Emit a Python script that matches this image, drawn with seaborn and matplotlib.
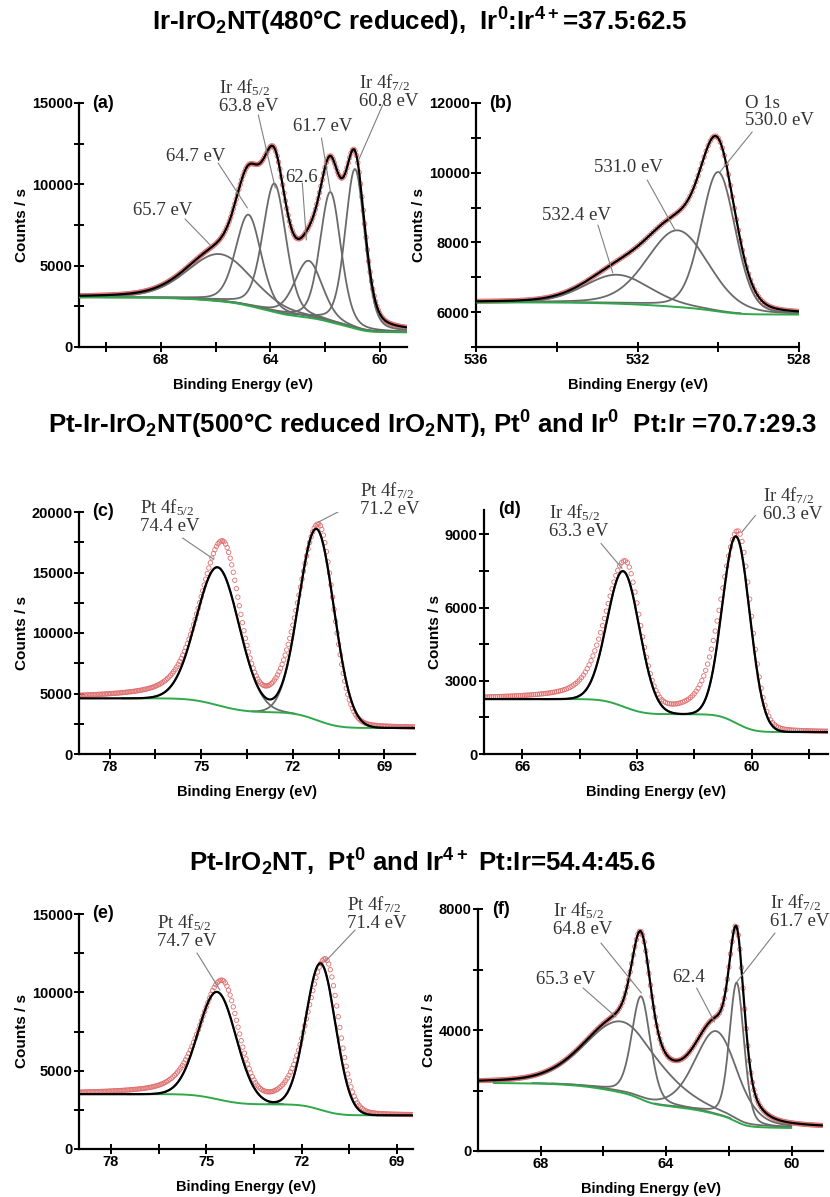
import numpy as np
import pandas as pd
import matplotlib
matplotlib.use("Agg")
import matplotlib.pyplot as plt
import seaborn as sns
from matplotlib import font_manager

#%% Peak-fit values (binding energy eV, counts/s)
# (a) Ir-IrO2NT, Ir 4f
a_centers = [65.85, 64.8, 63.85, 62.6, 61.8, 60.9]
a_heights = [2900, 5600, 7900, 3500, 8000, 9800]
a_fwhm = [2.8, 1.1, 1.0, 1.2, 0.9, 0.85]
a_bg = [3050, 900]

# (b) Ir-IrO2NT, O 1s
b_centers = [532.5, 531.0, 530.0]
b_heights = [830, 2200, 4000]
b_fwhm = [1.9, 1.8, 1.0]
b_bg = [6280, 5930]

# (c) Pt-Ir-IrO2NT, Pt 4f  (fit + measured shape)
c_centers = [74.45, 71.22]
c_heights = [11400, 15800]
c_fwhm = [1.65, 1.35]
c_bg = [4600, 2150]
c_meas_centers = [74.3, 71.15]
c_meas_heights = [13300, 16200]
c_meas_fwhm = [1.3, 1.15]

# (d) Pt-Ir-IrO2NT, Ir 4f
d_centers = [63.35, 60.4]
d_heights = [5550, 7650]
d_fwhm = [1.0, 0.85]
d_bg = [2250, 900]
d_meas_centers = [63.3, 60.35]
d_meas_heights = [5900, 7900]
d_meas_fwhm = [0.9, 0.8]

# (e) Pt-IrO2NT, Pt 4f
e_centers = [74.65, 71.4]
e_heights = [6850, 9350]
e_fwhm = [1.4, 1.1]
e_bg = [3500, 2150]
e_meas_centers = [74.5, 71.25]
e_meas_heights = [7500, 9700]
e_meas_fwhm = [1.2, 1.0]

# (f) Pt-IrO2NT, Ir 4f
f_centers = [65.4, 64.8, 62.4, 61.75]
f_heights = [2350, 3400, 2750, 4600]
f_fwhm = [2.8, 0.7, 1.6, 0.55]
f_bg = [2250, 750]

#%% Texts
titles = [
    "Ir-IrO$_2$NT(480°C reduced),  Ir$^0$:Ir$^{4+}$=37.5:62.5",
    "Pt-Ir-IrO$_2$NT(500°C reduced IrO$_2$NT), Pt$^0$ and Ir$^0$  Pt:Ir =70.7:29.3",
    "Pt-IrO$_2$NT,  Pt$^0$ and Ir$^{4+}$ Pt:Ir=54.4:45.6",
]

# label text, text position, leader line start, leader line end (data coords)
a_labels = [
    ("Ir 4f$_{5/2}$\n63.8 eV", (65.87, 15430), (64.44, 14263), (63.82, 9775)),
    ("61.7 eV", (63.16, 13526), (62.13, 12849), (61.80, 9529)),
    ("Ir 4f$_{7/2}$\n60.8 eV", (60.77, 15739), (59.89, 14878), (60.77, 11497)),
    ("64.7 eV", (67.82, 11681), (65.91, 11312), (64.84, 8546)),
    ("62.6", (63.45, 10390), (62.83, 10083), (62.68, 6578)),
    ("65.7 eV", (69.03, 8361), (67.12, 7869), (66.20, 6271)),
]
b_labels = [
    ("O 1s\n530.0 eV", (529.34, 11728), (529.16, 11168), (529.96, 10019)),
    ("531.0 eV", (533.08, 10163), (531.76, 9790), (531.07, 8354)),
    ("532.4 eV", (534.37, 8785), (532.98, 8498), (532.61, 7120)),
]
c_labels = [
    ("Pt 4f$_{5/2}$\n74.4 eV", (76.99, 19669), (75.61, 17851), (74.60, 16115)),
    ("Pt 4f$_{7/2}$\n71.2 eV", (69.79, 21074), (69.95, 20743), (71.16, 19172)),
]
d_labels = [
    ("Ir 4f$_{5/2}$\n63.3 eV", (65.30, 9552), (63.94, 8632), (63.39, 7609)),
    ("Ir 4f$_{7/2}$\n60.3 eV", (59.71, 10248), (59.90, 9777), (60.26, 9082)),
]
e_labels = [
    ("Pt 4f$_{5/2}$\n74.7 eV", (76.55, 13883), (75.29, 12511), (74.57, 10149)),
    ("Pt 4f$_{7/2}$\n71.4 eV", (70.57, 15064), (70.32, 13979), (71.27, 11936)),
]
f_labels = [
    ("Ir 4f$_{5/2}$\n64.8 eV", (67.62, 7670), (66.08, 6876), (64.79, 5223)),
    ("Ir 4f$_{7/2}$\n61.7 eV", (60.69, 7934), (60.53, 7207), (61.75, 5587)),
    ("65.3 eV", (68.16, 5653), (66.65, 5389), (65.60, 4430)),
    ("62.4", (63.80, 5752), (63.03, 5389), (62.46, 4265)),
]


def pseudo_voigt(x, c, h, w, eta, asym=0.0):
    # asym > 0 widens the high binding energy side (inelastic tail)
    hi_side = x > c
    w = np.where(hi_side, w * (1 + asym), w)
    eta = np.where(hi_side, eta, eta * max(0.0, 1 - 2 * asym))
    s = w / 2.3548
    g = np.exp(-(x - c) ** 2 / (2 * s * s))
    l = 1 / (1 + ((x - c) / (w / 2)) ** 2)
    return h * ((1 - eta) * g + eta * l)


def shirley(x, comps, hi, lo):
    s = comps.sum(axis=0)
    cum = np.concatenate([[0], np.cumsum((s[1:] + s[:-1]) / 2 * np.diff(x))])
    return lo + (hi - lo) * cum / cum[-1]


panels = [
    dict(tag="(a)", c=a_centers, h=a_heights, w=a_fwhm, bg=a_bg, eta=0.3, meas=None,
         labels=a_labels, box=(79, 103, 407, 347), xlim=(71, 59), ylim=(0, 15000),
         xmaj=[68, 64, 60], xmin=[70, 66, 62], ymaj=[0, 5000, 10000, 15000],
         ymin=[2500, 7500, 12500], fit=(59, 71)),
    dict(tag="(b)", c=b_centers, h=b_heights, w=b_fwhm, bg=b_bg, eta=0.2, meas=None,
         labels=b_labels, box=(476, 103, 799, 347), xlim=(536, 528), ylim=(5000, 12000),
         xmaj=[536, 532, 528], xmin=[534, 530], ymaj=[6000, 8000, 10000, 12000],
         ymin=[5000, 7000, 9000, 11000], fit=(528, 536)),
    dict(tag="(c)", c=c_centers, h=c_heights, w=c_fwhm, bg=c_bg, eta=0.0,
         meas=(c_meas_centers, c_meas_heights, c_meas_fwhm, 0.42, 0.35),
         labels=c_labels, box=(79, 512, 415, 754), xlim=(79, 68), ylim=(0, 20000),
         xmaj=[78, 75, 72, 69], xmin=[76.5, 73.5, 70.5],
         ymaj=[0, 5000, 10000, 15000, 20000], ymin=[2500, 7500, 12500, 17500],
         fit=(69.0, 77.6)),
    dict(tag="(d)", c=d_centers, h=d_heights, w=d_fwhm, bg=d_bg, eta=0.0,
         meas=(d_meas_centers, d_meas_heights, d_meas_fwhm, 0.42, 0.35),
         labels=d_labels, box=(484, 510, 828, 754), xlim=(67, 58), ylim=(0, 10000),
         xmaj=[66, 63, 60], xmin=[64.5, 61.5, 58.5], ymaj=[0, 3000, 6000, 9000],
         ymin=[1500, 4500, 7500], fit=(58.6, 65.5)),
    dict(tag="(e)", c=e_centers, h=e_heights, w=e_fwhm, bg=e_bg, eta=0.0,
         meas=(e_meas_centers, e_meas_heights, e_meas_fwhm, 0.42, 0.35),
         labels=e_labels, box=(79, 914, 413, 1149), xlim=(79, 68.5), ylim=(0, 15000),
         xmaj=[78, 75, 72, 69], xmin=[76.5, 73.5, 70.5], ymaj=[0, 5000, 10000, 15000],
         ymin=[2500, 7500, 12500], fit=(69.3, 77.5)),
    dict(tag="(f)", c=f_centers, h=f_heights, w=f_fwhm, bg=f_bg, eta=0.3, meas=None,
         labels=f_labels, box=(478, 909, 823, 1151), xlim=(70, 59), ylim=(0, 8000),
         xmaj=[68, 64, 60], xmin=[66, 62], ymaj=[0, 4000, 8000], ymin=[2000, 6000],
         fit=(60.0, 69.5)),
]

#%% Grafik
sns.set_style("ticks")
names = {f.name for f in font_manager.fontManager.ttflist}
narrow = "Liberation Sans Narrow" if "Liberation Sans Narrow" in names else "Liberation Sans"
plt.rcParams["font.family"] = ["Liberation Sans", "DejaVu Sans"]
plt.rcParams["mathtext.default"] = "regular"
for key in ["text.color", "axes.labelcolor", "xtick.color", "ytick.color", "axes.edgecolor"]:
    plt.rcParams[key] = "black"

W, H = 830, 1197
fig = plt.figure(figsize=(W / 100, H / 100), dpi=100)

title_y = [22, 425, 862]
title_x = [420, 433, 422]
tsize = 21.5 if narrow != "Liberation Sans" else 18.6
for t, tx, ty in zip(titles, title_x, title_y):
    fig.text(tx / W, 1 - ty / H, t, ha="center", va="center", fontsize=tsize,
             fontweight="bold", family=[narrow, "DejaVu Sans"])

for p in panels:
    l, t, r, b = p["box"]
    ax = fig.add_axes([l / W, 1 - b / H, (r - l) / W, (b - t) / H])
    lo, hi = min(p["xlim"]), max(p["xlim"])
    x = np.arange(lo, hi + 0.01, 0.01)
    comps = np.array([pseudo_voigt(x, c, h, w, p["eta"]) for c, h, w in zip(p["c"], p["h"], p["w"])])
    base = shirley(x, comps, p["bg"][0], p["bg"][1])
    env = base + comps.sum(axis=0)

    # measured points
    xm = np.arange(lo, hi + 0.001, 0.05)
    if p["meas"] is None:
        ym = np.interp(xm, x, env)
    else:
        mc, mh, mw, meta, masym = p["meas"]
        mcomp = np.array([pseudo_voigt(xm, c, h, w, meta, masym) for c, h, w in zip(mc, mh, mw)])
        ym = np.interp(xm, x, base) + mcomp.sum(axis=0)
    sns.scatterplot(x=xm, y=ym, ax=ax, marker="o", s=10, facecolor="none",
                    edgecolor="#e07070", linewidth=0.6, zorder=2)

    inside = (x >= p["fit"][0]) & (x <= p["fit"][1])
    for comp in comps:
        keep = inside & (comp > 15)
        sns.lineplot(x=x[keep], y=(base + comp)[keep], ax=ax, color="#6a6a6a",
                     linewidth=1.3, zorder=3)
    sns.lineplot(x=x[inside], y=base[inside], ax=ax, color="#2fa84a", linewidth=1.4, zorder=4)
    sns.lineplot(x=x, y=env, ax=ax, color="black", linewidth=1.6, zorder=5)

    for txt, (tx, ty), (x0, y0), (x1, y1) in p["labels"]:
        ax.text(tx, ty, txt, ha="left", va="center", fontsize=13.5, color="#333333",
                family=["Liberation Serif", "DejaVu Serif"], linespacing=1.0, clip_on=False)
        ax.plot([x0, x1], [y0, y1], color="#808080", linewidth=0.8, zorder=6)

    ax.text(0.04, 1.0, p["tag"], transform=ax.transAxes, ha="left", va="center",
            fontsize=13, fontweight="bold")

    ax.set_xlim(p["xlim"])
    ax.set_ylim(p["ylim"])
    ax.set_xticks(p["xmaj"])
    ax.set_xticks(p["xmin"], minor=True)
    ax.set_yticks(p["ymaj"])
    ax.set_yticks(p["ymin"], minor=True)
    ax.tick_params(which="both", direction="inout", length=7, width=1.4, labelsize=10.5,
                   pad=1)
    for lab in ax.get_xticklabels() + ax.get_yticklabels():
        lab.set_fontweight("bold")
    ax.set_xlabel("Binding Energy (eV)", fontsize=10.5, fontweight="bold", labelpad=8)
    ax.set_ylabel("Counts / s", fontsize=11, fontweight="bold", labelpad=2)
    sns.despine(ax=ax)
    for side in ["left", "bottom"]:
        ax.spines[side].set_linewidth(1.6)
    ax.set_facecolor("none")

fig.savefig("out.png", dpi=100)
